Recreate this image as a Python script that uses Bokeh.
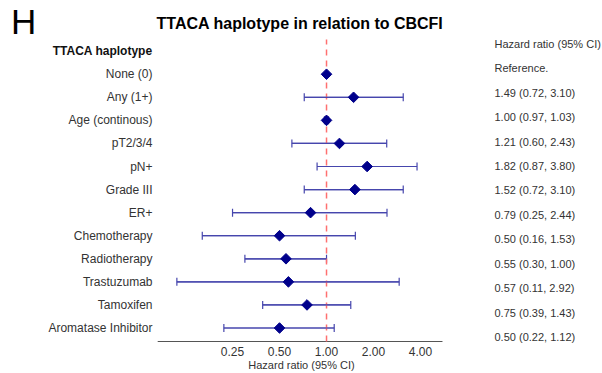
import math
from bokeh.plotting import figure
from bokeh.models import (Range1d, FixedTicker, NumeralTickFormatter, LogAxis, LogScale,
                          ColumnDataSource, Whisker, TeeHead)
from bokeh.core.properties import value
from bokeh.embed import file_html
from bokeh.resources import INLINE

# ---------------- data ----------------
header_left = "TTACA haplotype"
header_right = "Hazard ratio (95% CI)"
categories = ["None (0)", "Any (1+)", "Age (continous)", "pT2/3/4", "pN+", "Grade III",
              "ER+", "Chemotherapy", "Radiotherapy", "Trastuzumab", "Tamoxifen",
              "Aromatase Inhibitor"]
hr = [1.00, 1.49, 1.00, 1.21, 1.82, 1.52, 0.79, 0.50, 0.55, 0.57, 0.75, 0.50]
lower = [None, 0.72, 0.97, 0.60, 0.87, 0.72, 0.25, 0.16, 0.30, 0.11, 0.39, 0.22]
upper = [None, 3.10, 1.03, 2.43, 3.80, 3.10, 2.44, 1.53, 1.00, 2.92, 1.43, 1.12]
x_ticks = [0.25, 0.5, 1.0, 2.0, 4.0]
x_axis_limits = [0.0829, 5.53]
title_text = "TTACA haplotype in relation to CBCFI"
panel_letter = "H"
x_label = "Hazard ratio (95% CI)"

n = len(categories)
ypos = [n - i for i in range(n)]           # None(0) on top -> 12 ... Aromatase -> 1
header_y = n + 1

FONT = "Liberation Sans"
TXT = "#333333"

W, H = 602, 373
BOTTOM = 29                                  # room for the x axis labels

# default x range = layout columns; default y range = forest rows
p = figure(width=W, height=H, output_backend="svg", toolbar_location=None,
           x_axis_location=None, y_axis_location=None,
           x_range=Range1d(0, W), y_range=Range1d(0.285, 15.196),
           min_border_left=0, min_border_right=0, min_border_top=0,
           min_border_bottom=BOTTOM)
p.xgrid.visible = False
p.ygrid.visible = False
p.outline_line_color = None
p.background_fill_color = "white"
p.border_fill_color = "white"

# hazard-ratio (log) scale and other row scales
p.extra_x_ranges = {"hr": Range1d(0.00816, 58.58)}
p.extra_x_scales = {"hr": LogScale()}
p.extra_y_ranges = {"right": Range1d(0.701, 14.771), "page": Range1d(H - BOTTOM, 0)}

ax = LogAxis(x_range_name="hr", ticker=FixedTicker(ticks=x_ticks),
             formatter=NumeralTickFormatter(format="0.00"))
ax.axis_line_color = None
ax.major_tick_line_color = None
ax.minor_tick_line_color = None
ax.major_tick_out = 0
ax.major_tick_in = 0
ax.major_label_standoff = 2
ax.major_label_text_font = FONT
ax.major_label_text_font_size = "12px"
ax.major_label_text_color = TXT
ax.axis_label = x_label
ax.axis_label_standoff = 0
ax.axis_label_text_font = FONT
ax.axis_label_text_font_size = "11px"
ax.axis_label_text_font_style = "normal"
ax.axis_label_text_color = TXT
p.add_layout(ax, "below")

axis_y = min(ypos) - 0.585
top_y = header_y + 0.505

# axis line of the forest region
p.segment(x0=[x_axis_limits[0]], x1=[x_axis_limits[1]], y0=[axis_y], y1=[axis_y],
          x_range_name="hr", line_color="#555555", line_width=1)

# reference line at HR = 1
p.segment(x0=[1.0], x1=[1.0], y0=[axis_y], y1=[top_y], x_range_name="hr",
          line_color="#ff7070", line_dash="6 5", line_width=1.5)

# confidence intervals
ci_idx = [i for i in range(n) if lower[i] is not None]
ci_src = ColumnDataSource(dict(y=[ypos[i] for i in ci_idx],
                               lo=[lower[i] for i in ci_idx],
                               hi=[upper[i] for i in ci_idx]))
ci_color = "#4646ad"
p.segment(x0="lo", x1="hi", y0="y", y1="y", source=ci_src, x_range_name="hr",
          line_color=ci_color, line_width=1.2)
p.add_layout(Whisker(base="y", lower="lo", upper="hi", dimension="width", source=ci_src,
                     x_range_name="hr", line_color=ci_color, line_width=1.2,
                     lower_head=TeeHead(size=8, line_color=ci_color, line_width=1.2),
                     upper_head=TeeHead(size=8, line_color=ci_color, line_width=1.2)))

# point estimates
pt_src = ColumnDataSource(dict(x=hr, y=ypos))
p.scatter(x="x", y="y", source=pt_src, x_range_name="hr", marker="square",
          angle=math.pi / 4, size=7.5, fill_color="#00008b", line_color="#00008b")

# left label column
p.text(x=[152] * n, y=ypos, text=categories, text_font=value(FONT),
       text_font_size="12px", text_color=TXT, text_align="right",
       text_baseline="middle")
p.text(x=[152], y=[header_y], text=[header_left], text_font=value(FONT),
       text_font_size="12px", text_font_style="bold", text_color="#111111",
       text_align="right", text_baseline="middle")

# right text column
right_texts = [header_right, "Reference."] + [
    f"{hr[i]:.2f} ({lower[i]:.2f}, {upper[i]:.2f})" for i in range(1, n)]
right_y = [header_y] + ypos
p.text(x=[494] * len(right_texts), y=right_y, y_range_name="right", text=right_texts,
       text_font=value(FONT), text_font_size="11px", text_color=TXT,
       text_align="left", text_baseline="middle")

# panel letter and title
p.text(x=[10.5], y=[20.8], y_range_name="page", text=[panel_letter], text_font=value(FONT),
       text_font_size="35px", text_color="#000000", text_align="left",
       text_baseline="middle")
p.text(x=[299.5], y=[22.5], y_range_name="page", text=[title_text], text_font=value(FONT),
       text_font_size="16px", text_font_style="bold", text_color="#000000",
       text_align="center", text_baseline="middle")

open("out.html", "w").write(file_html(p, INLINE))
